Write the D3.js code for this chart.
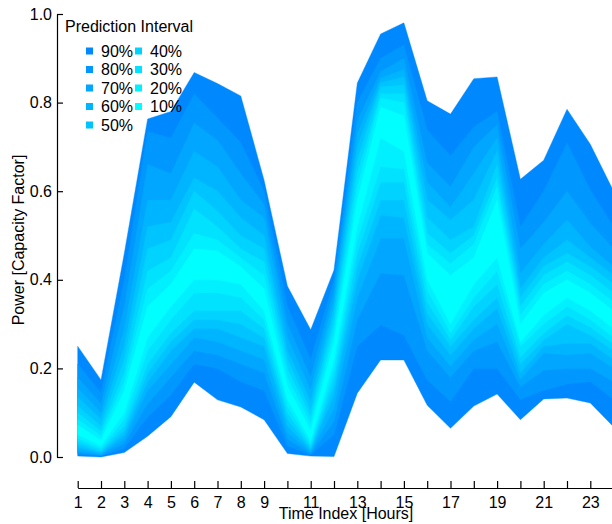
<!DOCTYPE html>
<html>
<head>
<meta charset="utf-8">
<script src="https://cdn.jsdelivr.net/npm/d3@7"></script>
<style>
  body { margin: 0; background: #fff; }
  svg { display: block; font-family: "Liberation Sans", Arial, sans-serif; }
  .axis path, .axis line { stroke: #000; stroke-width: 1.2; }
  .axis text { fill: #000; font-size: 16px; }
</style>
</head>
<body>
<svg id="chart" width="612" height="524"></svg>
<script>
// hours on the x axis
const hours = d3.range(1, 25);
const xTickLabels = [1, 2, 3, 4, 5, 6, 7, 8, 9, 11, 13, 15, 17, 19, 21, 23];
const yTicks = [0, 0.2, 0.4, 0.6, 0.8, 1.0];

const q05 = [.002, 0, .01, .047, .091, .169, .129, .113, .084, .008, .002, .001, .144, .219, .219, .117, .065, .115, .142, .084, .131, .133, .122, .068];
const q10 = [.006, .002, .02, .09, .14, .21, .20, .17, .15, .025, .005, .05, .25, .298, .275, .174, .125, .20, .20, .129, .15, .165, .17, .13];
const q15 = [.011, .004, .03, .12, .18, .24, .23, .21, .19, .04, .008, .08, .31, .415, .41, .24, .18, .24, .26, .158, .196, .20, .20, .17];
const q20 = [.016, .006, .04, .15, .21, .27, .26, .24, .22, .055, .011, .11, .36, .494, .494, .27, .205, .265, .30, .175, .235, .23, .235, .20];
const q25 = [.022, .009, .05, .17, .24, .29, .29, .27, .25, .07, .015, .14, .40, .546, .54, .30, .23, .29, .336, .19, .25, .257, .257, .22];
const q30 = [.028, .012, .06, .19, .26, .31, .31, .30, .27, .085, .019, .16, .43, .58, .58, .325, .25, .31, .36, .21, .264, .30, .275, .24];
const q35 = [.035, .016, .07, .21, .28, .33, .33, .33, .29, .10, .024, .18, .46, .62, .62, .35, .265, .34, .39, .226, .28, .32, .293, .255];
const q40 = [.042, .02, .085, .24, .31, .37, .37, .36, .31, .115, .03, .20, .49, .655, .65, .377, .28, .36, .42, .25, .30, .34, .31, .27];
const q45 = [.05, .026, .10, .27, .34, .40, .40, .39, .33, .13, .038, .22, .52, .72, .69, .40, .30, .39, .45, .26, .32, .36, .33, .29];
const q55 = [.072, .038, .15, .34, .39, .47, .465, .43, .38, .16, .06, .26, .58, .79, .77, .46, .41, .45, .58, .30, .37, .40, .37, .33];
const q60 = [.085, .048, .17, .38, .42, .505, .49, .45, .41, .18, .075, .28, .61, .81, .80, .48, .437, .48, .61, .32, .39, .42, .39, .35];
const q65 = [.10, .058, .19, .42, .45, .56, .52, .47, .44, .20, .09, .30, .64, .82, .82, .505, .46, .50, .63, .34, .41, .44, .41, .37];
const q70 = [.115, .07, .22, .47, .49, .60, .555, .50, .47, .22, .105, .32, .67, .835, .84, .54, .49, .52, .66, .36, .43, .46, .43, .39];
const q75 = [.135, .085, .25, .52, .53, .63, .60, .54, .50, .24, .125, .34, .70, .845, .858, .58, .535, .58, .69, .38, .45, .49, .45, .41];
const q80 = [.155, .10, .29, .58, .58, .69, .655, .58, .54, .27, .15, .36, .73, .855, .875, .62, .564, .64, .72, .415, .48, .535, .474, .43];
const q85 = [.18, .12, .34, .66, .64, .754, .715, .64, .57, .30, .18, .38, .76, .87, .90, .663, .61, .70, .75, .47, .53, .60, .528, .47];
const q90 = [.21, .145, .40, .735, .72, .82, .765, .71, .60, .34, .22, .40, .80, .90, .93, .738, .68, .745, .78, .52, .60, .709, .603, .52];
const q95 = [.25, .174, .46, .763, .78, .868, .843, .815, .625, .386, .287, .422, .844, .955, .98, .804, .774, .854, .858, .627, .670, .785, .706, .60];

// intervals, widest first
const intervalLabels = ["90%", "80%", "70%", "60%", "50%", "40%", "30%", "20%", "10%"];
const lowers = [q05, q10, q15, q20, q25, q30, q35, q40, q45];
const uppers = [q95, q90, q85, q80, q75, q70, q65, q60, q55];
const bandColors = ["#0088ff", "#0097ff", "#00a6ff", "#00b5ff", "#00c4ff", "#00d3ff", "#00e2ff", "#00f0ff", "#00ffff"];

const svg = d3.select("#chart");

const x = d3.scaleLinear().domain([1, 24]).range([77.7, 613.6]);
const y = d3.scaleLinear().domain([0, 1]).range([457, 14]);

// bands
const area = d3.area()
    .x((d, i) => x(hours[i]))
    .y0(d => y(d[0]))
    .y1(d => y(d[1]));

intervalLabels.forEach((lab, k) => {
    const pts = hours.map((h, i) => [lowers[k][i], uppers[k][i]]);
    svg.append("path")
        .attr("d", area(pts))
        .attr("fill", bandColors[k])
        .attr("stroke", bandColors[k])
        .attr("stroke-width", 0.4);
});

// axes
const yAxis = d3.axisLeft(y)
    .tickValues(yTicks)
    .tickFormat(d3.format(".1f"))
    .tickSizeInner(-6)
    .tickSizeOuter(0)
    .tickPadding(5);
svg.append("g").attr("class", "axis")
    .attr("transform", "translate(57,0)")
    .call(yAxis);

const xAxis = d3.axisBottom(x)
    .tickValues(hours)
    .tickFormat(d => xTickLabels.includes(d) ? d : "")
    .tickSizeInner(-7)
    .tickSizeOuter(0)
    .tickPadding(9);
svg.append("g").attr("class", "axis")
    .attr("transform", "translate(0,488)")
    .call(xAxis);

svg.selectAll(".axis .domain").attr("stroke", "#000");

// axis titles
svg.append("text")
    .attr("x", 346).attr("y", 519)
    .attr("text-anchor", "middle")
    .style("font-size", "16px")
    .text("Time Index [Hours]");

svg.append("text")
    .attr("transform", "translate(24,240) rotate(-90)")
    .attr("text-anchor", "middle")
    .style("font-size", "16px")
    .text("Power [Capacity Factor]");

// legend
const legend = svg.append("g");
legend.append("text")
    .attr("x", 65).attr("y", 32)
    .style("font-size", "16px")
    .text("Prediction Interval");

intervalLabels.forEach((lab, k) => {
    const col = k < 5 ? 0 : 1;
    const row = k < 5 ? k : k - 5;
    const cy = 51 + row * 18.5;
    const sx = col === 0 ? 86 : 135;
    legend.append("rect")
        .attr("x", sx).attr("y", cy - 3.5)
        .attr("width", 7).attr("height", 7)
        .attr("fill", bandColors[k]);
    legend.append("text")
        .attr("x", sx + 15).attr("y", cy + 5.5)
        .style("font-size", "16px")
        .text(lab);
});
</script>
</body>
</html>
